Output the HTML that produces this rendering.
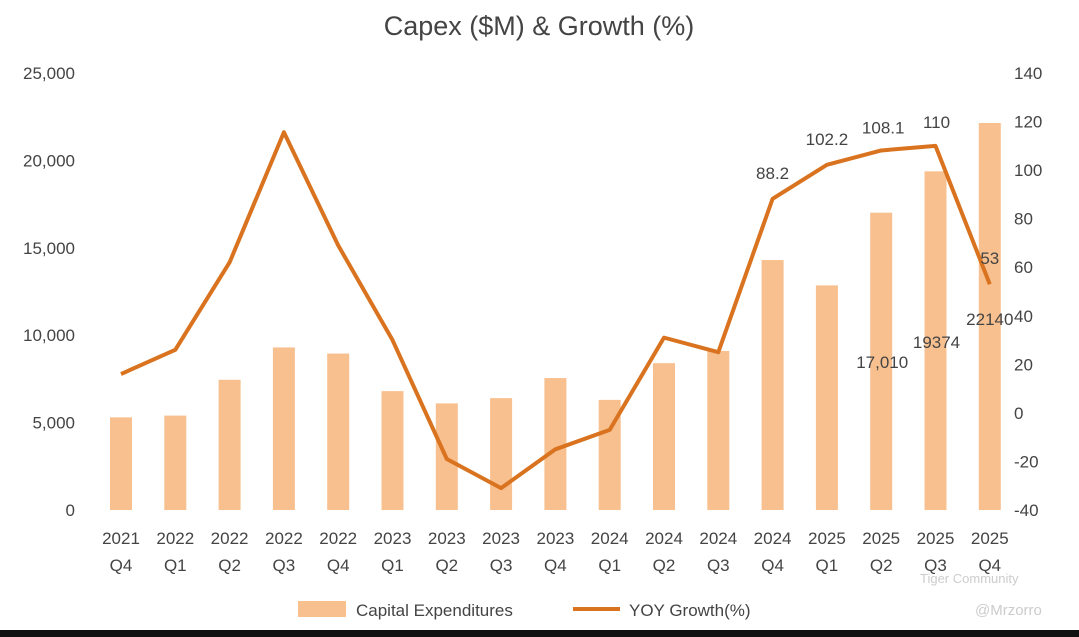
<!DOCTYPE html>
<html><head><meta charset="utf-8"><style>
html,body{margin:0;padding:0;background:#fff;width:1079px;height:637px;overflow:hidden}
svg{display:block;font-family:"Liberation Sans",sans-serif}
</style></head><body>
<svg id="chart" width="1079" height="637">
<text x="539" y="35" text-anchor="middle" font-size="27" fill="#444">Capex ($M) &amp; Growth (%)</text>
<g id="bars"></g><g id="line"></g><g id="axes"></g><g id="labels"></g>
<g>
<rect x="298" y="601" width="48" height="16" fill="#F8C08F"/>
<text x="356" y="616" font-size="17" fill="#444">Capital Expenditures</text>
<line x1="573" y1="609" x2="620" y2="609" stroke="#D9731F" stroke-width="4"/>
<text x="629" y="616" font-size="17" fill="#444">YOY Growth(%)</text>
</g>
<text x="920" y="583" font-size="13" fill="#ccc">Tiger Community</text>
<text x="975" y="615" font-size="15" fill="#ccc">@Mrzorro</text>
<rect x="0" y="630" width="1079" height="7" fill="#111"/>
</svg>
<script>
const years=["2021","2022","2022","2022","2022","2023","2023","2023","2023","2024","2024","2024","2024","2025","2025","2025","2025"];
const quarters=["Q4","Q1","Q2","Q3","Q4","Q1","Q2","Q3","Q4","Q1","Q2","Q3","Q4","Q1","Q2","Q3","Q4"];
const capex=[5300,5400,7450,9300,8950,6800,6100,6400,7550,6300,8400,9100,14300,12850,17010,19374,22140];
const growth=[16,26,62,115.6,69,30,-19,-31,-15,-7,31,25,88.2,102.2,108.1,110,53];
const leftTicks=[0,5000,10000,15000,20000,25000];
const rightTicks=[-40,-20,0,20,40,60,80,100,120,140];
const growthLabels=[[12,"88.2",0,-20],[13,"102.2",0,-20],[14,"108.1",2,-17],[15,"110",1,-18],[16,"53",0,-20]];
const capexLabels=[[14,"17,010"],[15,"19374"],[16,"22140"]];
const NS="http://www.w3.org/2000/svg";
const xOf=i=>121+i*54.3;
const yL=v=>510-v*(437/25000);
const yR=v=>510-(v+40)*(437/180);
function mk(p,tag,a,t){const e=document.createElementNS(NS,tag);for(const k in a)e.setAttribute(k,a[k]);if(t!==undefined)e.textContent=t;document.getElementById(p).appendChild(e);return e;}
capex.forEach((v,i)=>{const e=mk("bars","rect",{x:xOf(i)-11,y:yL(v),width:22,height:510-yL(v),fill:"#F8C08F"});

});
const pl=mk("line","polyline",{points:growth.map((v,i)=>xOf(i)+","+yR(v)).join(" "),fill:"none",stroke:"#D9731F","stroke-width":4,"stroke-linejoin":"round"});


leftTicks.forEach(v=>{const e=mk("axes","text",{x:75,y:yL(v)+6,"text-anchor":"end","font-size":17,fill:"#444"},v.toLocaleString("en-US"));

});
rightTicks.forEach(v=>{const e=mk("axes","text",{x:1014,y:yR(v)+6,"font-size":17,fill:"#444"},String(v));

});
years.forEach((y,i)=>{const e=mk("axes","text",{x:xOf(i),y:544,"text-anchor":"middle","font-size":17,fill:"#444"},y);


const q=mk("axes","text",{x:xOf(i),y:571,"text-anchor":"middle","font-size":17,fill:"#444"},quarters[i]);

});
growthLabels.forEach(([i,t,dx,dy])=>{const e=mk("labels","text",{x:xOf(i)+dx,y:yR(growth[i])+dy,"text-anchor":"middle","font-size":17,fill:"#444"},t);

});
const capY=[368,348,325];
const capDx=[1,1,0];
capexLabels.forEach(([i,t],k)=>{const e=mk("labels","text",{x:xOf(i)+capDx[k],y:capY[k],"text-anchor":"middle","font-size":17,fill:"#444"},t);

});
</script>
</body></html>
